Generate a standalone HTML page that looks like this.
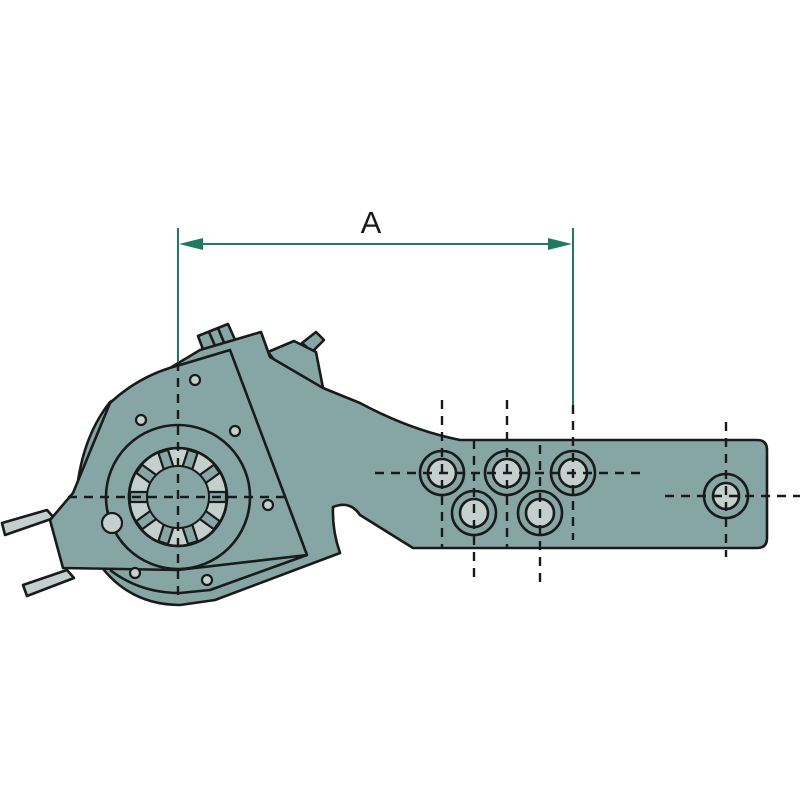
<!DOCTYPE html>
<html><head><meta charset="utf-8"><style>html,body{margin:0;padding:0;background:#fff}svg{display:block}</style></head>
<body>
<svg width="800" height="800" viewBox="0 0 800 800" xmlns="http://www.w3.org/2000/svg">
<g stroke="#1a1a1a" stroke-width="2.6" stroke-linejoin="round" fill="#86a6a6">
<polygon points="2,523 47,510 54,518 5,535" fill="#c3d0cd"/>
<polygon points="23,585 67,570 74,578 27,596" fill="#c3d0cd"/>
<polygon points="198,336 228,324 236,342 204,352"/>
<line x1="209" y1="332" x2="216" y2="348"/><line x1="218" y1="328" x2="225" y2="345"/>
<polygon points="302,343 316,332 324,340 312,352"/>
<polygon points="268,352 294,341 316,352 323,388 290,380"/>
<path d="M100,565 Q80,540 76,500 Q80,440 110,402 L145,383 L200,350 L261,332 L270,357 L323,388 L360,403 Q410,430 460,440 L757,440 Q767,440 767,450 L767,538 Q767,548 757,548 L413,548 L360,515 Q350,500 333,507 Q332,530 340,553 L215,600 L180,605 Q130,605 100,565 Z"/>
<path d="M110,570 Q140,593 180,593 L210,590 L307,555" fill="none"/>
<path d="M88,470 Q95,430 112,408 L150,387 L232,352" fill="none"/>
<path d="M73,493 L110,403 Q140,375 180,365 L230,350 L307,555 L178,570 L63,568 L50,520 Z"/>
<circle cx="178" cy="497" r="72"/>
<circle cx="178" cy="497" r="49" fill="#c3d0cd"/>
<g stroke-width="2.2" fill="#86a6a6">
<path d="M173,468 L173,449 L183,449 L183,468 Z" transform="rotate(18 178 497)"/>
<path d="M173,468 L173,449 L183,449 L183,468 Z" transform="rotate(54 178 497)"/>
<path d="M173,468 L173,449 L183,449 L183,468 Z" transform="rotate(90 178 497)"/>
<path d="M173,468 L173,449 L183,449 L183,468 Z" transform="rotate(126 178 497)"/>
<path d="M173,468 L173,449 L183,449 L183,468 Z" transform="rotate(162 178 497)"/>
<path d="M173,468 L173,449 L183,449 L183,468 Z" transform="rotate(198 178 497)"/>
<path d="M173,468 L173,449 L183,449 L183,468 Z" transform="rotate(234 178 497)"/>
<path d="M173,468 L173,449 L183,449 L183,468 Z" transform="rotate(270 178 497)"/>
<path d="M173,468 L173,449 L183,449 L183,468 Z" transform="rotate(306 178 497)"/>
<path d="M173,468 L173,449 L183,449 L183,468 Z" transform="rotate(342 178 497)"/>
</g>
<circle cx="178" cy="497" r="31" stroke-width="2"/>
<circle cx="178" cy="497" r="49" fill="none"/>
<g fill="#c3d0cd" stroke-width="2.2">
<circle cx="195" cy="380" r="5"/><circle cx="141" cy="420" r="5"/><circle cx="235" cy="431" r="5"/>
<circle cx="268" cy="505" r="5"/><circle cx="135" cy="573" r="5"/><circle cx="207" cy="580" r="5"/>
<circle cx="112" cy="523" r="10"/>
</g>
<g>
<circle cx="442" cy="473" r="22"/><circle cx="442" cy="473" r="14" fill="#c3d0cd"/>
<circle cx="507" cy="473" r="22"/><circle cx="507" cy="473" r="14" fill="#c3d0cd"/>
<circle cx="573" cy="473" r="22"/><circle cx="573" cy="473" r="14" fill="#c3d0cd"/>
<circle cx="474" cy="513" r="22"/><circle cx="474" cy="513" r="14" fill="#c3d0cd"/>
<circle cx="540" cy="513" r="22"/><circle cx="540" cy="513" r="14" fill="#c3d0cd"/>
<circle cx="726" cy="496" r="22"/><circle cx="726" cy="496" r="13" fill="#c3d0cd"/>
</g>
</g>
<g stroke="#1a1a1a" stroke-width="2.4" stroke-dasharray="9,7" fill="none">
<line x1="178" y1="362" x2="178" y2="600"/>
<line x1="68" y1="497" x2="285" y2="497"/>
<line x1="442" y1="400" x2="442" y2="548"/>
<line x1="507" y1="400" x2="507" y2="548"/>
<line x1="573" y1="405" x2="573" y2="540"/>
<line x1="474" y1="440" x2="474" y2="578"/>
<line x1="540" y1="445" x2="540" y2="582"/>
<line x1="726" y1="422" x2="726" y2="557"/>
<line x1="375" y1="473" x2="640" y2="473"/>
<line x1="665" y1="496" x2="800" y2="496"/>
</g>
<g stroke="#1e7a62" stroke-width="2" fill="#1e7a62">
<line x1="178" y1="228" x2="178" y2="362"/>
<line x1="573" y1="228" x2="573" y2="405"/>
<line x1="190" y1="244" x2="561" y2="244"/>
<polygon points="179,244 203,238 203,250" stroke="none"/>
<polygon points="572,244 548,238 548,250" stroke="none"/>
</g>
<text x="371" y="233" font-family="Liberation Sans, sans-serif" font-size="31" text-anchor="middle" fill="#1a1a1a">A</text>
</svg>
</body></html>
